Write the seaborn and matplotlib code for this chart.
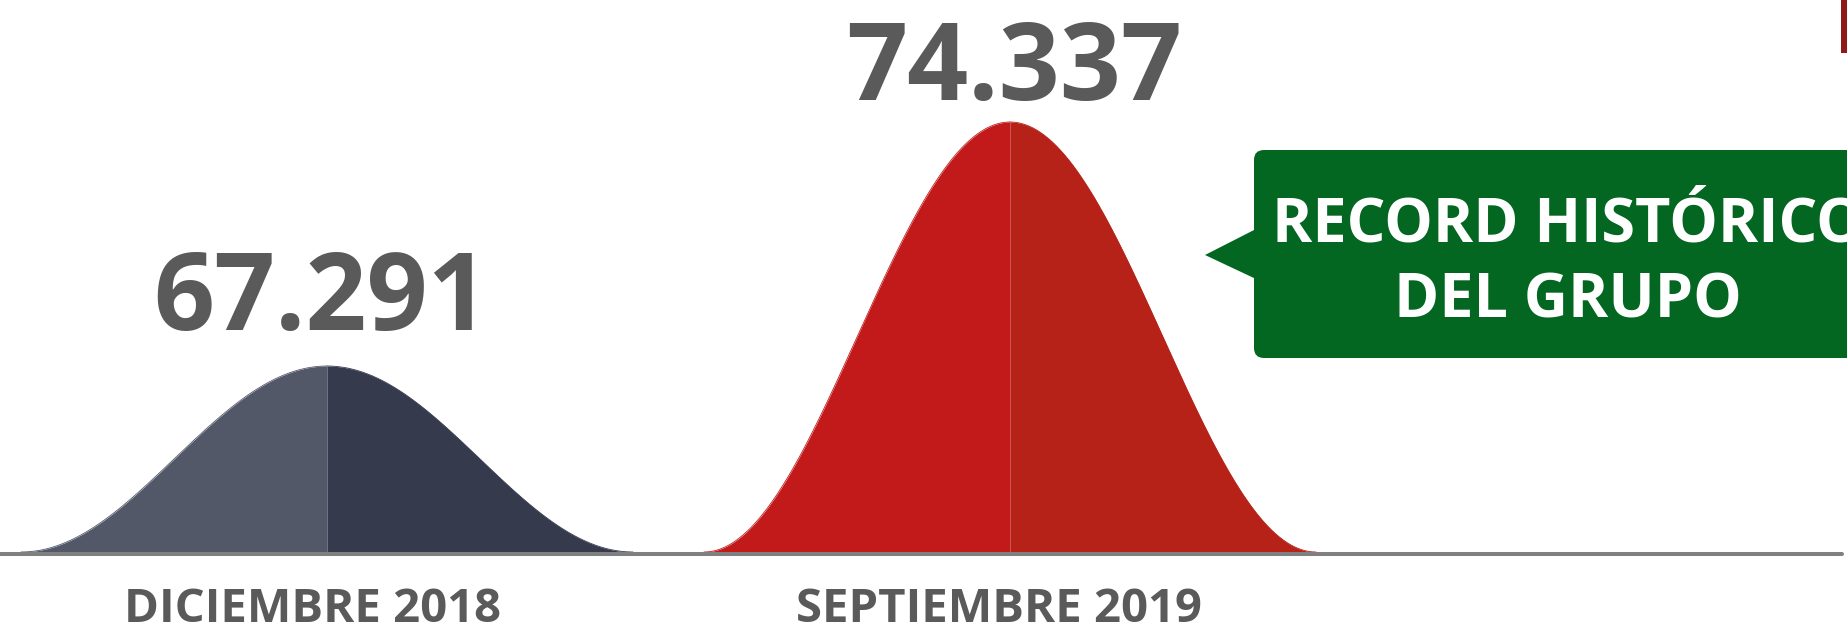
import numpy as np
import pandas as pd
import matplotlib
matplotlib.use("Agg")
import matplotlib.pyplot as plt
import seaborn as sns
from matplotlib.patches import FancyBboxPatch, Polygon, Rectangle
from matplotlib.transforms import Affine2D

# ---------------- data ----------------
categories = ["DICIEMBRE 2018", "SEPTIEMBRE 2019"]
values = [67.291, 74.337]
value_labels = ["67.291", "74.337"]
callout_lines = ["RECORD HISTÓRICO", "DEL GRUPO"]

# ---------------- style ----------------
left_colors = ["#535869", "#C21A1B"]
right_colors = ["#363A4D", "#B72218"]
text_gray = "#5A5A5A"
green = "#036621"
FLOOR = 61.92          # value axis floor (bump base)
HALF_W = 0.448         # half width of each bump in category units
PX_PER_UNIT = 34.63

sns.set_theme(style="white")
plt.rcParams["font.family"] = ["Open Sans", "DejaVu Sans"]

W, H = 1847, 625
fig = plt.figure(figsize=(W / 100, H / 100), dpi=100)
ax = fig.add_axes([0, 0, 1, 1])
ax.set_xlim(-0.4788, 2.2255)
ax.set_ylim(59.812, 77.860)
ax.axis("off")

# bell shaped marks
for i, v in enumerate(values):
    t = np.linspace(-1, 1, 601)
    x = i + t * HALF_W
    y = FLOOR + (v - FLOOR) * (1 + np.cos(np.pi * t)) / 2
    df = pd.DataFrame({"x": x, "y": y, "t": t})
    left = df[df.t <= 0]
    right = df[df.t >= 0]
    ax.fill_between(left.x, FLOOR, left.y, color=left_colors[i], lw=0)
    ax.fill_between(right.x, FLOOR, right.y, color=right_colors[i], lw=0)
    sns.lineplot(data=left, x="x", y="y", color=left_colors[i], lw=0.6,
                 sort=False, estimator=None, ax=ax)
    sns.lineplot(data=right, x="x", y="y", color=right_colors[i], lw=0.6,
                 sort=False, estimator=None, ax=ax)

# baseline
ax.axhline(FLOOR - 2 / PX_PER_UNIT, xmin=0, xmax=1842 / W, color="#808080", lw=2.9)

# value labels
num_dx = [-6, 4]
num_dy = [36, 22]
for i, (v, lab) in enumerate(zip(values, value_labels)):
    ax.annotate(lab, xy=(i, v), xytext=(num_dx[i], num_dy[i]),
                textcoords="offset pixels", ha="center", va="baseline",
                fontsize=77, fontweight="bold", color=text_gray)

# category labels
cat_dx = [-15, -11]
for i, c in enumerate(categories):
    ax.annotate(c, xy=(i, FLOOR), xytext=(cat_dx[i], -70),
                textcoords="offset pixels", ha="center", va="baseline",
                fontsize=34, fontweight="bold", color=text_gray,
                annotation_clip=False)

# callout (pixel coordinates from the top-left)
pix = Affine2D().scale(1 / 100, -1 / 100).translate(0, H / 100) + fig.dpi_scale_trans
box = FancyBboxPatch((1254, 150), 650, 208,
                     boxstyle="round,pad=0,rounding_size=10",
                     fc=green, ec="none", transform=pix)
fig.patches.append(box)
tri = Polygon([(1205, 255), (1256, 229), (1256, 279)], closed=True,
              fc=green, ec="none", transform=pix)
fig.patches.append(tri)
fig.text(1568, 242, callout_lines[0], transform=pix, ha="center", va="baseline",
         fontsize=44, fontweight="bold", color="white")
fig.text(1568, 318, callout_lines[1], transform=pix, ha="center", va="baseline",
         fontsize=44, fontweight="bold", color="white")

# small cropped element at top-right corner
fig.patches.append(Rectangle((1841, 0), 8, 53, fc="#8E1B1B", ec="none", transform=pix))

fig.savefig("out.png", dpi=100)
